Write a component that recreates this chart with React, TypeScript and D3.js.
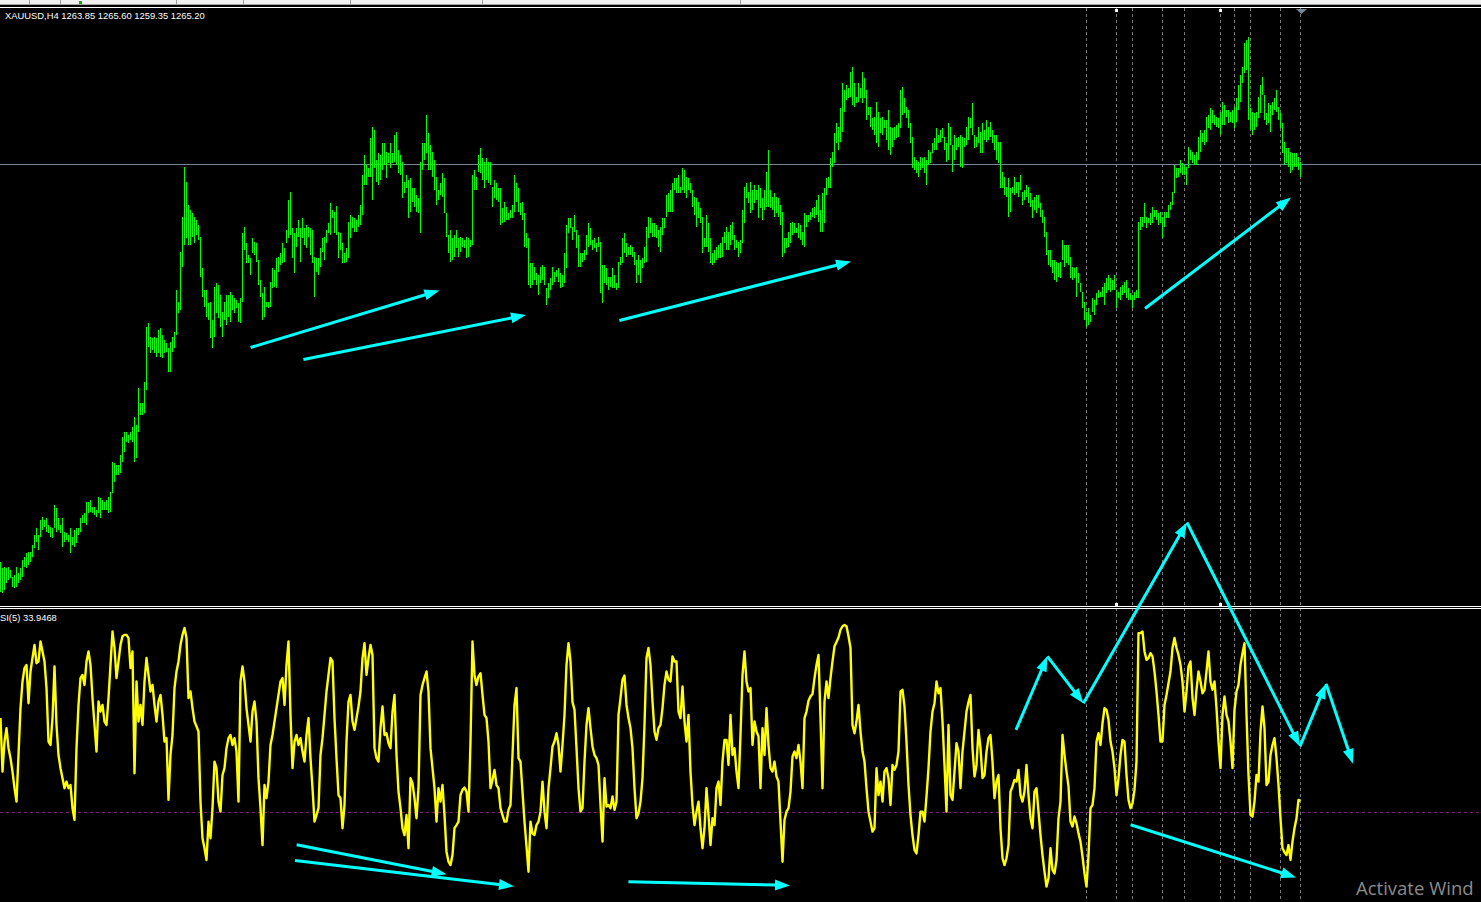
import React from "react";
import * as d3 from "d3";

// XAUUSD H4 bars (oldest first)
const barHigh = [
  1185.6,1184.4,1184.6,1184.4,1184.6,1184.0,1182.6,1183.0,1184.6,1183.4,
  1184.4,1186.0,1186.6,1187.4,1187.6,1187.6,1189.0,1191.0,1192.4,1191.0,
  1194.0,1194.6,1194.0,1194.4,1193.0,1192.6,1192.4,1197.0,1196.4,1194.4,
  1193.0,1194.4,1191.6,1191.4,1191.0,1192.4,1190.6,1192.0,1192.4,1192.4,
  1194.4,1195.0,1195.4,1197.6,1197.6,1198.0,1196.6,1196.6,1196.0,1198.6,
  1198.4,1198.0,1197.6,1198.0,1198.6,1199.6,1205.6,1205.4,1205.0,1205.0,
  1207.0,1210.6,1211.6,1211.6,1211.0,1211.6,1212.6,1214.6,1213.0,1220.4,
  1217.4,1217.4,1221.6,1232.6,1233.4,1230.6,1230.4,1230.6,1230.4,1232.0,
  1232.4,1231.0,1230.0,1229.4,1228.4,1229.6,1230.6,1231.6,1240.0,1237.6,
  1247.6,1254.6,1264.6,1261.6,1257.0,1256.0,1255.4,1254.6,1254.0,1253.0,
  1250.6,1244.4,1240.0,1240.0,1237.4,1237.6,1234.0,1240.6,1241.4,1241.0,
  1239.0,1235.6,1237.6,1239.0,1239.0,1239.6,1239.0,1238.4,1238.0,1237.4,
  1238.4,1251.4,1252.6,1249.4,1247.0,1246.4,1250.4,1249.6,1249.4,1246.0,
  1242.0,1239.4,1240.6,1237.6,1237.6,1241.6,1244.4,1244.0,1246.4,1246.6,
  1247.4,1249.4,1248.4,1252.0,1258.0,1259.6,1252.4,1251.4,1252.4,1254.0,
  1252.4,1254.4,1252.4,1253.0,1252.6,1252.4,1252.0,1246.6,1246.4,1246.4,
  1248.4,1250.4,1250.6,1252.0,1253.4,
  1257.4,1256.0,1255.6,1256.8,1251.6,1251.4,1249.4,1247.4,1248.4,1253.6,
  1255.0,1254.6,1254.4,1254.0,1255.0,1257.0,1263.0,1267.0,1265.0,1264.4,
  1270.4,1272.6,1272.0,1266.0,1267.4,1267.0,1269.4,1269.4,1267.6,1267.4,
  1269.4,1267.4,1271.0,1271.6,1268.0,1267.0,1265.6,1261.6,1263.0,1262.0,
  1262.4,1260.4,1260.4,1259.0,1258.4,1265.6,1269.4,1269.4,1275.0,1271.4,
  1269.0,1267.6,1266.0,1262.6,1260.0,1261.4,1263.4,1262.4,1255.4,1251.0,
  1252.0,1250.4,1251.0,1252.0,1250.4,1250.6,1250.4,1250.0,1250.6,1250.4,
  1250.0,1263.0,1264.0,1262.6,1267.0,1268.4,1266.4,1265.6,1266.4,1265.6,
  1265.6,1260.6,1262.0,1261.4,1260.4,1260.4,1256.4,1257.6,1256.6,1255.4,
  1256.0,1257.0,1263.0,1261.4,1260.4,1257.4,1257.6,1255.4,1251.4,1250.4,
  1245.4,1245.4,1244.6,1243.4,1243.0,1244.6,1245.0,1244.6,1240.4,1241.4,
  1242.4,1244.6,1243.6,1244.0,1244.4,1243.4,1243.0,1247.4,1253.0,1254.4,
  1254.4,1252.6,1255.0,1252.0,1251.0,1247.4,1247.4,1248.0,1251.0,1253.4,
  1252.4,1250.0,1250.4,1249.4,1250.6,1249.6,1245.0,1245.0,1244.4,1242.6,
  1242.6,1244.4,1243.0,1241.4,1245.6,1246.6,1250.4,1251.4,1249.4,1248.6,
  1249.0,1248.6,1247.6,1246.0,1247.0,1246.0,1246.4,1248.6,1252.6,1254.6,
  1254.4,1253.4,1253.4,1253.0,1252.0,
  1252.6,1254.4,1254.4,1259.0,1259.4,1260.0,1261.4,1262.4,1262.4,1263.0,
  1260.6,1264.4,1264.0,1262.6,1262.4,1261.4,1260.0,1258.6,1258.4,1257.6,
  1256.4,1254.6,1250.4,1255.0,1253.4,1250.4,1247.4,1248.0,1248.6,1249.0,
  1249.4,1250.6,1251.6,1252.6,1251.6,1253.0,1253.6,1251.0,1250.0,1249.6,
  1250.0,1256.0,1260.6,1261.4,1259.6,1261.6,1260.0,1261.0,1260.0,1261.0,
  1260.4,1258.4,1260.0,1263.6,1268.0,1260.0,1258.6,1259.4,1258.6,1258.4,
  1257.0,1255.6,1250.4,1250.4,1251.6,1253.4,1253.6,1253.4,1252.4,1253.4,
  1253.0,1251.6,1255.4,1255.0,1255.0,1255.6,1256.4,1256.6,1258.0,1259.0,
  1256.0,1259.4,1260.4,1262.4,1262.6,1266.4,1267.6,1271.4,1273.4,1272.6,
  1276.4,1281.4,1280.0,1281.0,1280.4,1283.6,1284.6,1281.4,1278.6,1281.4,
  1280.4,1283.6,1282.4,1280.0,1276.6,1276.6,1274.4,1274.6,1277.6,1275.6,
  1274.4,1274.6,1274.0,1274.0,1276.0,1272.6,1272.4,1272.6,1273.0,1273.4,
  1280.0,1280.6,1278.4,1276.6,1276.0,1273.4,1270.6,1266.6,1266.0,1265.6,
  1266.6,1266.4,1266.6,1266.0,1268.0,1267.6,1269.4,1270.4,1272.4,1271.0,
  1272.0,1272.4,1270.6,1269.4,1273.4,1272.6,1269.0,1271.0,1270.4,1270.6,
  1271.0,1270.6,1270.4,1272.6,1274.6,1274.4,1277.4,1271.0,1270.6,1272.6,
  1271.6,1273.4,1272.0,1274.0,1272.6,
  1273.6,1272.0,1271.0,1271.0,1269.6,1269.6,1263.6,1262.6,1260.6,1262.4,
  1260.4,1260.6,1262.6,1261.6,1261.6,1263.0,1259.6,1260.0,1261.0,1260.6,
  1259.4,1258.0,1258.6,1259.0,1259.0,1257.4,1256.0,1254.6,1251.6,1248.0,
  1248.0,1246.0,1246.0,1245.6,1245.4,1245.6,1250.0,1249.0,1249.0,1249.0,
  1246.6,1244.6,1244.4,1244.6,1243.4,1241.4,1239.6,1237.6,1235.6,1236.4,
  1235.0,1238.4,1238.0,1239.4,1240.0,1239.6,1240.6,1241.4,1242.4,1243.0,
  1242.4,1242.0,1243.0,1240.0,1239.6,1240.6,1241.0,1241.6,1242.0,1240.4,
  1239.4,1239.0,1239.6,1240.0,1253.6,1254.6,1254.6,1257.4,1254.6,1254.4,
  1255.4,1256.6,1256.0,1256.0,1255.4,1255.6,1254.6,1255.6,1255.6,1257.0,
  1257.6,1259.6,1265.0,1264.4,1264.4,1266.0,1265.4,1265.0,1264.6,1268.6,
  1268.0,1267.6,1267.0,1267.6,1270.6,1272.0,1271.4,1272.0,1274.6,1275.0,
  1276.4,1276.0,1275.0,1274.6,1274.4,1275.6,1277.6,1277.0,1276.0,1276.0,
  1275.6,1276.0,1276.6,1278.4,1281.0,1283.0,1284.6,1289.4,1290.0,1290.6,
  1276.4,1275.6,1275.4,1275.6,1278.6,1281.0,1282.6,1279.0,1275.4,1277.4,
  1277.0,1277.6,1278.4,1280.0,1276.6,1275.4,1273.4,1269.6,1268.4,1268.4,
  1267.6,1267.4,1267.4,1267.4,1266.6,1265.6,
];

const barLow = [
  1179.6,1179.4,1180.0,1181.4,1182.0,1182.4,1180.6,1180.4,1180.6,1181.4,
  1182.0,1182.6,1184.6,1184.4,1185.0,1185.6,1186.6,1188.4,1189.6,1188.0,
  1190.6,1192.0,1192.6,1191.6,1191.4,1190.6,1190.4,1192.4,1191.6,1192.0,
  1191.4,1188.6,1189.6,1190.0,1189.6,1187.4,1189.0,1188.6,1189.4,1191.0,
  1191.6,1193.4,1193.4,1193.0,1195.4,1195.6,1195.4,1195.0,1194.6,1195.4,
  1194.4,1196.0,1196.0,1196.0,1195.4,1195.6,1199.4,1201.6,1203.0,1203.0,
  1203.4,1205.6,1207.6,1209.6,1209.4,1210.0,1209.6,1205.6,1206.4,1211.6,
  1215.0,1215.0,1215.4,1220.0,1228.6,1227.4,1228.0,1227.4,1226.6,1227.4,
  1226.6,1226.4,1227.4,1227.6,1223.6,1223.6,1227.6,1228.4,1231.0,1235.4,
  1236.0,1244.6,1249.0,1250.4,1249.0,1249.0,1250.6,1249.4,1251.0,1250.0,
  1242.6,1238.6,1236.6,1234.6,1234.0,1230.4,1228.4,1230.6,1235.4,1234.4,
  1232.6,1230.6,1234.0,1233.0,1234.6,1233.6,1236.0,1235.4,1236.4,1233.6,
  1233.4,1237.6,1248.0,1245.4,1245.4,1243.0,1247.4,1247.0,1245.6,1241.0,
  1238.6,1234.0,1234.6,1236.6,1236.4,1236.6,1240.4,1240.6,1240.4,1243.6,
  1245.0,1245.4,1245.6,1249.4,1250.4,1251.0,1246.4,1243.4,1248.6,1250.6,
  1245.6,1250.4,1249.0,1248.4,1250.6,1247.0,1245.4,1238.6,1243.6,1243.0,
  1244.6,1247.6,1246.0,1249.4,1251.4,
  1251.0,1254.4,1251.4,1251.0,1246.4,1248.0,1245.4,1245.4,1245.6,1246.4,
  1250.4,1252.4,1251.6,1251.6,1252.6,1253.0,1255.0,1261.0,1261.0,1262.6,
  1262.6,1258.0,1264.4,1261.6,1261.0,1262.0,1264.0,1265.0,1262.4,1265.4,
  1264.4,1265.4,1265.6,1265.0,1263.4,1263.0,1258.4,1259.4,1260.4,1254.4,
  1255.6,1257.6,1256.6,1255.6,1255.4,1251.4,1264.0,1266.0,1267.4,1264.0,
  1264.0,1262.6,1260.0,1257.0,1258.0,1259.0,1258.6,1255.4,1250.6,1247.4,
  1245.6,1246.0,1246.6,1248.4,1246.6,1247.6,1248.6,1248.4,1246.4,1246.6,
  1248.6,1249.0,1260.0,1260.0,1263.6,1263.4,1262.0,1260.4,1262.0,1261.4,
  1261.0,1256.6,1258.4,1258.0,1257.6,1253.0,1253.4,1253.6,1254.0,1254.0,
  1254.4,1254.4,1255.6,1257.6,1255.6,1255.0,1254.0,1248.6,1248.4,1241.0,
  1240.4,1241.0,1242.0,1241.0,1239.0,1241.4,1242.0,1241.0,1237.0,1238.4,
  1240.0,1241.0,1241.6,1242.6,1241.6,1240.4,1240.6,1241.4,1244.4,1251.4,
  1252.4,1250.0,1251.6,1248.4,1244.6,1244.6,1245.6,1246.0,1247.0,1248.6,
  1249.0,1248.0,1248.4,1247.6,1248.6,1239.4,1237.4,1241.4,1241.0,1240.0,
  1240.6,1240.4,1240.4,1240.0,1240.4,1245.0,1245.4,1247.4,1246.6,1247.0,
  1247.0,1246.6,1245.0,1241.4,1243.0,1241.4,1244.4,1245.4,1245.6,1250.4,
  1251.4,1250.6,1250.6,1250.4,1248.6,
  1247.6,1251.0,1252.4,1254.6,1255.6,1255.6,1255.6,1260.0,1259.4,1259.4,
  1259.4,1260.0,1259.4,1258.4,1260.0,1259.4,1256.6,1255.0,1252.6,1254.4,
  1253.4,1247.4,1248.6,1248.6,1247.6,1245.4,1245.0,1245.4,1246.0,1246.4,
  1246.4,1246.6,1249.4,1248.0,1248.0,1249.0,1250.0,1248.0,1248.4,1246.6,
  1247.4,1249.4,1253.4,1258.4,1257.4,1255.4,1256.0,1257.4,1258.0,1254.4,
  1256.4,1254.0,1256.0,1256.6,1256.6,1256.4,1256.0,1254.6,1255.4,1254.6,
  1253.0,1246.6,1247.4,1248.4,1248.6,1249.4,1251.0,1251.4,1251.4,1250.4,
  1250.0,1249.0,1248.6,1252.6,1253.6,1254.0,1254.6,1254.4,1255.0,1253.6,
  1251.6,1251.6,1253.4,1259.0,1260.4,1260.4,1264.6,1265.4,1269.4,1268.0,
  1269.6,1271.6,1275.6,1278.0,1278.4,1278.6,1277.0,1276.6,1277.4,1277.6,
  1278.4,1277.4,1278.4,1274.0,1275.0,1272.6,1272.0,1271.0,1269.4,1268.6,
  1271.4,1271.0,1272.4,1270.0,1268.0,1267.0,1268.6,1270.0,1270.4,1270.6,
  1272.4,1275.0,1275.4,1274.4,1272.4,1269.4,1264.4,1264.0,1263.4,1262.6,
  1264.0,1264.4,1263.4,1261.0,1265.0,1265.4,1267.4,1268.0,1268.0,1269.4,
  1269.6,1270.4,1268.0,1265.6,1266.0,1269.0,1263.6,1266.0,1268.0,1268.6,
  1264.6,1264.4,1268.6,1269.0,1270.0,1272.4,1271.0,1268.4,1268.6,1269.4,
  1267.4,1267.4,1270.0,1269.6,1270.0,
  1270.6,1269.4,1268.0,1266.0,1265.4,1260.4,1260.4,1259.0,1258.6,1254.6,
  1255.6,1259.4,1259.0,1259.4,1258.6,1260.0,1257.0,1258.0,1258.6,1257.4,
  1256.6,1254.4,1256.0,1255.4,1256.4,1254.6,1253.4,1250.6,1247.0,1245.0,
  1244.6,1243.4,1242.0,1241.6,1242.6,1242.4,1246.0,1244.6,1245.4,1245.0,
  1242.4,1242.0,1242.4,1238.6,1241.4,1239.6,1236.4,1234.0,1232.6,1233.0,
  1233.6,1235.6,1235.0,1237.0,1238.4,1238.6,1238.6,1237.0,1239.4,1240.0,
  1239.6,1240.0,1240.0,1236.4,1238.4,1238.0,1239.0,1239.4,1238.4,1238.0,
  1238.0,1236.4,1238.0,1238.4,1238.4,1252.0,1252.6,1253.4,1252.4,1253.4,
  1253.0,1253.4,1254.6,1254.0,1253.0,1253.4,1250.4,1252.6,1254.4,1254.4,
  1256.0,1257.0,1259.4,1262.4,1262.6,1263.4,1263.0,1263.0,1261.0,1264.4,
  1266.0,1265.4,1265.0,1265.0,1266.0,1267.6,1269.6,1269.0,1269.6,1272.4,
  1272.0,1273.4,1273.0,1272.6,1272.4,1271.0,1273.0,1273.0,1274.6,1273.4,
  1273.6,1273.4,1272.4,1273.6,1276.0,1277.6,1281.4,1283.4,1284.0,1274.0,
  1272.0,1271.0,1272.0,1272.6,1274.4,1275.4,1279.0,1274.0,1273.0,1273.4,
  1271.6,1275.0,1276.0,1275.6,1274.0,1272.4,1267.4,1265.0,1265.4,1264.6,
  1263.4,1264.0,1264.6,1264.6,1264.0,1262.6,
];

// RSI(5), one value per bar
const rsiValues = [
  62.9,44.2,54.7,59.4,52.4,48.9,44.2,38.4,33.7,50.0,
  66.4,75.7,80.4,81.5,68.1,79.2,83.9,88.5,82.1,82.7,
  89.7,86.2,82.7,73.4,54.7,53.5,62.9,81.0,60.5,50.0,
  45.4,41.9,38.4,40.7,38.4,39.5,31.4,27.3,52.4,67.5,
  76.9,78.0,74.5,82.7,86.2,81.5,69.9,60.5,51.2,68.7,
  65.2,67.5,61.7,60.5,69.9,81.5,93.2,87.4,76.9,82.7,
  88.5,91.5,92.0,92.0,90.9,80.4,86.2,43.6,75.7,61.7,
  67.5,60.5,75.7,83.9,78.0,72.2,74.5,67.5,61.7,68.7,
  71.0,64.0,54.7,55.9,34.3,50.0,57.0,73.4,79.2,82.7,
  88.5,92.0,94.4,90.9,69.9,72.2,66.4,61.7,60.0,58.2,
  33.7,20.9,17.4,13.3,26.7,20.9,31.4,47.7,45.4,33.7,
  30.2,43.0,45.4,52.4,55.9,57.0,53.5,55.9,51.2,33.7,
  75.7,81.0,75.7,66.4,60.5,54.7,65.2,68.7,61.7,41.9,
  31.4,18.5,39.5,34.9,40.7,53.5,57.0,61.7,66.4,71.0,
  75.7,76.9,67.5,81.5,89.7,64.0,45.4,54.7,57.0,53.5,
  55.9,51.2,47.7,57.0,62.9,48.9,38.4,26.7,29.0,31.4,
  50.0,55.9,64.0,72.2,78.0,
  83.9,82.7,62.9,48.9,36.0,34.9,24.4,32.5,54.7,68.7,
  71.0,61.7,58.8,62.9,67.0,72.2,83.9,89.1,78.0,83.9,
  88.5,85.0,52.4,48.9,47.7,59.4,67.0,57.0,57.6,54.1,
  52.4,65.2,71.0,50.0,37.2,31.4,24.4,22.0,29.0,17.4,
  41.9,40.1,34.9,27.9,38.4,71.0,74.5,76.9,79.2,72.2,
  52.4,45.4,38.4,26.7,38.4,33.7,39.5,29.0,16.2,12.7,
  11.5,15.0,24.4,25.5,26.7,36.0,37.8,38.6,37.2,30.2,
  54.7,89.7,78.0,74.5,77.5,78.6,71.0,64.0,62.9,54.7,
  38.4,41.3,44.8,39.5,38.4,31.4,29.0,26.7,26.7,30.8,
  32.5,50.0,67.5,73.4,48.9,47.7,37.2,26.7,18.0,9.2,
  26.7,22.6,22.0,25.5,26.7,30.2,40.7,30.2,24.4,38.4,
  45.4,53.0,54.7,57.6,53.5,44.2,53.5,64.0,81.5,89.1,
  82.7,68.5,65.8,52.4,38.4,30.2,31.4,47.7,60.5,66.4,
  59.4,53.0,50.0,48.9,46.5,32.5,19.7,41.9,32.0,32.5,
  31.4,35.5,30.8,33.7,64.0,69.9,76.3,77.8,67.5,62.9,
  59.4,52.4,38.4,27.9,29.6,33.7,41.9,60.5,83.9,87.4,
  81.5,68.7,58.2,55.3,59.4,
  60.5,66.4,74.5,79.2,76.3,75.7,84.5,82.7,82.7,65.2,
  62.9,74.0,61.7,54.7,64.0,44.2,32.5,25.5,30.2,33.7,
  24.4,17.4,24.4,38.4,29.0,18.5,27.9,25.5,38.4,40.7,
  32.5,47.7,55.3,55.3,46.5,64.0,50.0,52.4,44.2,38.4,
  57.0,78.0,86.2,75.7,72.2,73.4,53.5,61.7,58.2,56.5,
  38.4,59.4,50.0,66.4,53.5,45.4,44.2,47.7,42.5,40.7,
  26.7,12.7,27.3,30.2,31.4,37.2,49.5,51.2,48.9,53.5,
  47.7,38.4,62.9,65.2,69.0,70.5,71.3,76.9,81.5,85.0,
  62.9,38.4,68.7,75.7,69.9,76.9,82.7,88.0,89.5,91.1,
  93.8,95.0,95.5,95.0,91.5,87.4,60.5,57.6,61.7,67.5,
  58.2,51.2,47.7,38.4,30.2,26.7,23.2,24.4,45.4,36.0,
  40.7,33.7,44.2,45.4,41.9,32.5,46.5,44.8,46.5,51.2,
  72.2,72.8,67.0,54.7,39.5,29.0,22.0,16.8,15.6,22.0,
  30.2,30.2,26.7,35.5,45.4,58.2,65.2,68.1,75.7,71.6,
  73.4,61.7,46.5,30.2,60.5,36.0,34.3,44.2,54.1,51.2,
  38.4,51.2,58.2,65.2,68.5,71.0,52.4,42.5,46.5,58.8,
  52.4,41.9,43.0,51.2,55.9,
  57.0,47.7,34.9,40.7,43.0,24.4,13.9,11.5,13.9,18.5,
  37.2,39.0,41.3,40.7,44.8,36.0,33.7,37.2,46.5,36.0,
  27.9,24.4,37.2,38.4,30.2,22.0,15.0,9.2,4.0,6.9,
  17.4,9.8,8.6,13.3,27.9,33.7,57.0,50.0,44.2,39.0,
  26.7,25.0,28.5,26.1,22.6,19.7,14.5,8.6,4.0,15.0,
  31.4,32.5,38.4,54.7,57.6,53.5,61.1,66.4,65.8,62.3,
  54.7,51.2,45.4,36.0,41.9,50.0,55.3,54.7,43.0,34.3,
  31.4,33.1,37.8,47.7,92.6,92.6,93.2,86.2,83.3,83.9,
  85.6,84.5,79.2,72.2,64.0,54.7,54.7,67.5,71.0,75.1,
  79.2,87.4,90.9,87.4,85.0,81.5,75.7,65.2,72.2,81.0,
  82.7,69.9,64.0,72.8,79.2,75.7,71.6,72.8,79.2,86.2,
  75.7,72.8,75.7,66.4,54.7,45.4,64.0,70.5,64.0,61.7,
  54.7,45.4,65.8,72.2,74.5,81.5,85.6,89.1,64.0,43.0,
  29.0,28.5,33.7,43.0,40.7,58.2,67.0,59.4,39.5,40.7,
  50.0,53.5,55.9,48.9,39.5,27.9,17.4,16.0,15.0,18.5,
  13.3,19.7,24.4,27.9,34.3,33.95,
];

// bars that carry a vertical dashed marker
const markerBars = [543, 558, 566, 581, 592, 610, 617, 625, 640, 650];
const flaggedBars = [558, 610];

const headerText = "XAUUSD,H4  1263.85 1265.60 1259.35 1265.20";
const rsiLabel = "SI(5) 33.9468";
const watermark = "Activate Wind";
const lastClose = 1265.2;
const rsiLevel = 30;

// hand drawn arrows: [bar0, value0, bar1, value1]
const priceArrows = [
  [125.3, 1228.5, 219.7, 1239.9],
  [151.7, 1226.1, 263.0, 1235.0],
  [309.7, 1233.9, 425.5, 1245.7],
  [572.5, 1236.3, 645.5, 1258.5],
];
const rsiArrows = [
  [148.3, 18.6, 223.3, 8.3],
  [147.5, 13.1, 257.0, 4.1],
  [314.2, 5.7, 395.0, 4.4],
  [565.3, 25.6, 648.0, 7.2],
];
// zig-zag drawn over the RSI window: [bar, rsi]
const rsiZigzag = [
  [508, 58.8],
  [523.7, 84.5],
  [541.7, 68.1],
  [593.5, 131.3],
  [650, 53.0],
  [663, 74.9],
  [676.5, 46.9],
];

const W = 1481;
const H = 902;
const CYAN = "#00ffff";

function Arrow({ x0, y0, x1, y1 }: { x0: number; y0: number; x1: number; y1: number }) {
  const dx = x1 - x0;
  const dy = y1 - y0;
  const len = Math.hypot(dx, dy);
  const ux = dx / len;
  const uy = dy / len;
  const hl = 15;
  const hw = 5.5;
  const bx = x1 - ux * hl;
  const by = y1 - uy * hl;
  const pts = `${x1},${y1} ${bx - uy * hw},${by + ux * hw} ${bx + uy * hw},${by - ux * hw}`;
  return (
    <g>
      <line x1={x0} y1={y0} x2={bx + ux * 2} y2={by + uy * 2} stroke={CYAN} strokeWidth={3} />
      <polygon points={pts} fill={CYAN} />
    </g>
  );
}

export default function App() {
  const x = d3.scaleLinear().domain([0, 650]).range([0, 1300]);
  const yPrice = d3.scaleLinear().domain([1298, 1178]).range([0, 600]);
  const yRsi = d3.scaleLinear().domain([0, 100]).range([898, 612]);

  const rsiPath = d3
    .line<number>()
    .x((_, i) => x(i) + 0.5)
    .y((d) => yRsi(d))(rsiValues);

  const bidY = Math.round(yPrice(lastClose)) + 0.5;
  const levelY = Math.round(yRsi(rsiLevel)) + 0.5;

  return (
    <div style={{ position: "absolute", left: 0, top: 0, width: W, height: H, background: "#000" }}>
      <svg width={W} height={H} style={{ display: "block" }}>
        <defs>
          <clipPath id="pricePane">
            <rect x={0} y={8} width={W} height={598} />
          </clipPath>
          <clipPath id="rsiPane">
            <rect x={0} y={609} width={W} height={H - 609} />
          </clipPath>
        </defs>
        <rect x={0} y={0} width={W} height={H} fill="#000" />

        {/* toolbar strip */}
        <rect x={0} y={0} width={W} height={4} fill="#f0f0f0" />
        <rect x={0} y={4} width={W} height={1} fill="#a0a0a0" />
        <rect x={0} y={7} width={W} height={1} fill="#ffffff" />
        {[29, 60, 176, 243, 350, 482, 740].map((sx) => (
          <rect key={sx} x={sx} y={0} width={1} height={4} fill="#9a9a9a" />
        ))}
        <rect x={79} y={1} width={3} height={3} fill="#10b010" />

        {/* vertical dashed markers */}
        {markerBars.map((b) => (
          <line
            key={b}
            x1={x(b) + 0.5}
            x2={x(b) + 0.5}
            y1={8}
            y2={H}
            stroke="#7a7a7a"
            strokeDasharray="3,3"
          />
        ))}

        {/* price pane */}
        <line x1={0} x2={W} y1={bidY} y2={bidY} stroke="#778899" />
        <g clipPath="url(#pricePane)" shapeRendering="crispEdges">
          {barHigh.map((h, i) => {
            const yt = yPrice(Math.max(h, barLow[i]));
            const yb = yPrice(Math.min(h, barLow[i]));
            return (
              <rect key={i} x={x(i)} y={yt} width={1} height={Math.max(1, yb - yt)} fill="#00ff00" />
            );
          })}
        </g>
        <text x={5} y={19} fill="#ffffff" fontFamily="Liberation Sans, Arial, sans-serif" fontSize={9.4}>
          {headerText}
        </text>

        {/* pane separator */}
        <rect x={0} y={606} width={W} height={1} fill="#ffffff" />
        <rect x={0} y={608} width={W} height={1} fill="#ffffff" />

        {/* rsi pane */}
        <line x1={0} x2={W} y1={levelY} y2={levelY} stroke="#7b1f7b" strokeDasharray="3,3" />
        <g clipPath="url(#rsiPane)">
          <path d={rsiPath ?? ""} fill="none" stroke="#ffff00" strokeWidth={2.4} strokeLinejoin="round" />
        </g>
        <text x={0} y={621} fill="#ffffff" fontFamily="Liberation Sans, Arial, sans-serif" fontSize={9.4}>
          {rsiLabel}
        </text>

        {/* small chart markers */}
        {flaggedBars.map((b) => (
          <g key={b}>
            <rect x={x(b) - 1} y={9} width={3} height={3} fill="#ffffff" />
            <rect x={x(b) - 1} y={603} width={3} height={3} fill="#ffffff" />
          </g>
        ))}
        <polygon
          points={`${x(650) - 4},9 ${x(650) + 7},9 ${x(650) + 1.5},14`}
          fill="#778899"
        />

        {/* annotations */}
        {priceArrows.map((a, k) => (
          <Arrow key={"p" + k} x0={x(a[0])} y0={yPrice(a[1])} x1={x(a[2])} y1={yPrice(a[3])} />
        ))}
        {rsiArrows.map((a, k) => (
          <Arrow key={"r" + k} x0={x(a[0])} y0={yRsi(a[1])} x1={x(a[2])} y1={yRsi(a[3])} />
        ))}
        {rsiZigzag.slice(1).map((p, k) => (
          <Arrow
            key={"z" + k}
            x0={x(rsiZigzag[k][0])}
            y0={yRsi(rsiZigzag[k][1])}
            x1={x(p[0])}
            y1={yRsi(p[1])}
          />
        ))}

        <text x={1356} y={895} fill="#8c8c8c" fontFamily="Open Sans, Noto Sans, sans-serif" fontSize={18.5}>
          {watermark}
        </text>
      </svg>
    </div>
  );
}
